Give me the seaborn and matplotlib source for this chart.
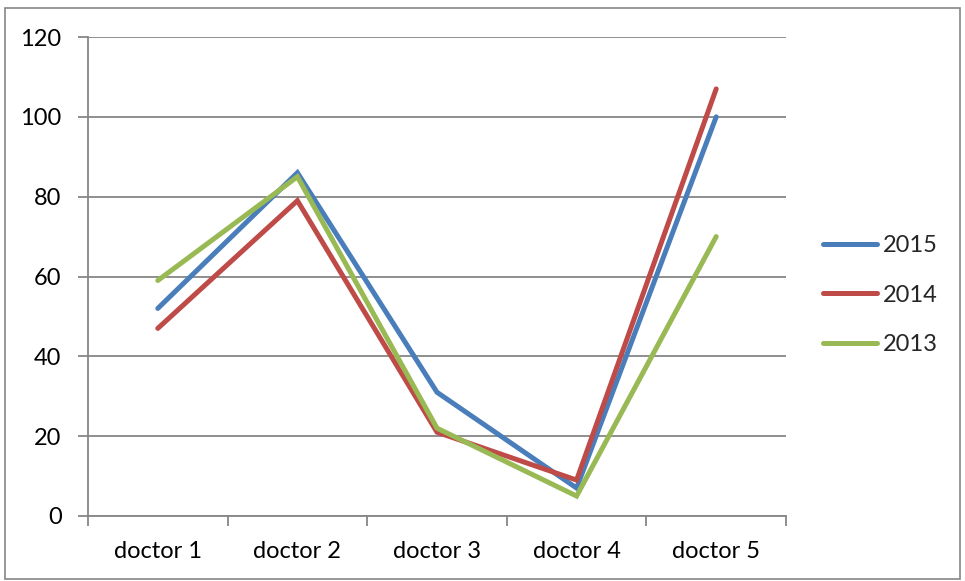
import matplotlib
matplotlib.use("Agg")
import matplotlib.pyplot as plt
import seaborn as sns
import pandas as pd
from matplotlib.patches import Rectangle
from matplotlib.lines import Line2D

doctors = ["doctor 1", "doctor 2", "doctor 3", "doctor 4", "doctor 5"]
years = ["2015", "2014", "2013"]
values_2015 = [52, 86, 31, 7, 100]
values_2014 = [47, 79, 21, 9, 107]
values_2013 = [59, 85, 22, 5, 70]
y_ticks = [0, 20, 40, 60, 80, 100, 120]
colors = {"2015": "#4A7EBB", "2014": "#BE4B48", "2013": "#98B954"}

series = {"2015": values_2015, "2014": values_2014, "2013": values_2013}
df = pd.DataFrame(
    [(d, y, v) for y in years for d, v in zip(doctors, series[y])],
    columns=["doctor", "year", "value"],
)

sns.set_theme(style="white")
plt.rcParams["font.family"] = ["Lato", "DejaVu Sans"]

fig = plt.figure(figsize=(9.65, 5.81), dpi=100)
ax = fig.add_axes([88 / 965, 1 - 516 / 581, (786 - 88) / 965, (516 - 37) / 581])

lw = 3.6
sns.lineplot(data=df, x="doctor", y="value", hue="year", hue_order=years,
             palette=colors, linewidth=lw, sort=False, legend=False, ax=ax)
for line in ax.lines:
    line.set_solid_capstyle("round")
    line.set_solid_joinstyle("miter")

grid_c = "#868686"
fs = 17
ax.set_xlim(-0.5, 4.5)
ax.set_ylim(0, 120)
ax.set_yticks(y_ticks)
ax.set_yticklabels([str(t) for t in y_ticks])
ax.yaxis.grid(True, color=grid_c, linewidth=1.3)
ax.set_axisbelow(True)
ax.set_xlabel("")
ax.set_ylabel("")
ax.set_xticks(range(len(doctors)))
ax.set_xticklabels(doctors)
ax.set_xticks([i - 0.5 for i in range(len(doctors) + 1)], minor=True)
ax.tick_params(axis="x", which="major", length=0, pad=18, labelsize=fs, colors="black")
ax.tick_params(axis="x", which="minor", length=7, width=1.3, color=grid_c, bottom=True)
ax.tick_params(axis="y", which="major", length=7, width=1.3, color=grid_c, left=True,
               pad=12, labelsize=fs, labelcolor="black")
for side in ["top", "right"]:
    ax.spines[side].set_visible(False)
for side in ["left", "bottom"]:
    ax.spines[side].set_color(grid_c)
    ax.spines[side].set_linewidth(1.3)

handles = [Line2D([0], [0], color=colors[y], linewidth=lw, solid_capstyle="round") for y in years]
fig.legend(handles, years, loc="center left", bbox_to_anchor=(823 / 965, 1 - 295 / 581),
           frameon=False, fontsize=fs, handlelength=2.3, handletextpad=0.25,
           labelspacing=1.2, borderaxespad=0, borderpad=0)

fig.patches.append(Rectangle((5 / 965, 2 / 581), 955 / 965, 571 / 581, transform=fig.transFigure,
                             fill=False, edgecolor=grid_c, linewidth=1.2))

fig.savefig("out.png", dpi=100)
